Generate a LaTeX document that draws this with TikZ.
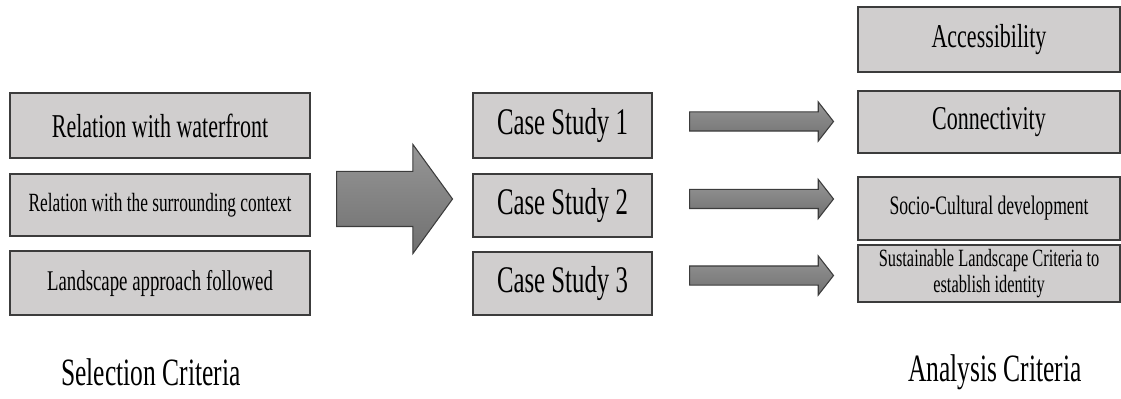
\documentclass[tikz,border=0pt]{standalone}
\usepackage{fontspec}
\setmainfont{Liberation Serif}[FakeStretch=0.66]
\usetikzlibrary{shapes.arrows}
\definecolor{boxGray}{RGB}{208,206,206}
\definecolor{edgeGray}{RGB}{60,60,60}
\definecolor{arrowLight}{RGB}{150,150,150}
\definecolor{arrowDark}{RGB}{112,112,112}
\tikzset{
  critBox/.style={draw=edgeGray, fill=boxGray, line width=1.1pt, rectangle, text centered, inner sep=0pt},
  blockArrow/.style={single arrow, anchor=tail, draw=edgeGray, line width=0.8pt, top color=arrowLight, bottom color=arrowDark, inner sep=0pt, text depth=0pt}
}
\begin{document}
\begin{tikzpicture}[x=0.75pt, y=-0.75pt]

		\useasboundingbox (0,0) rectangle (1121,399);

		%Selection criteria nodes
		\node (waterfront) at (160,125.5) [critBox, minimum width=225pt, minimum height=48.75pt,
		font=\fontsize{25}{30}\selectfont]{Relation with waterfront};
		\node (surroundingContext) at (160,205) [critBox, minimum width=225pt, minimum height=46.5pt,
		font=\fontsize{19.7}{24}\selectfont]{Relation with the surrounding context};
		\node (landscapeApproach) at (160,283) [critBox, minimum width=225pt, minimum height=48pt,
		font=\fontsize{21.4}{26}\selectfont]{Landscape approach followed};

		%Big arrow
		\node (bigArrow) at (336,199) [blockArrow, minimum height=87pt, minimum width=81pt,
		text height=40.5pt, single arrow head extend=20.25pt, single arrow tip angle=108]{};

		%Case studies
		\node (caseStudyOne) at (562.5,125.5) [critBox, minimum width=134.25pt, minimum height=48.75pt,
		font=\fontsize{28.2}{32}\selectfont]{Case Study 1};
		\node (caseStudyTwo) at (562.5,205.5) [critBox, minimum width=134.25pt, minimum height=47.25pt,
		font=\fontsize{28.2}{32}\selectfont]{Case Study 2};
		\node (caseStudyThree) at (562.5,283.5) [critBox, minimum width=134.25pt, minimum height=47.25pt,
		font=\fontsize{28.2}{32}\selectfont]{Case Study 3};

		%Small arrows
		\node (arrowOne) at (689,121.5) [blockArrow, minimum height=108pt, minimum width=28.5pt,
		text height=13.5pt, single arrow head extend=7.5pt, single arrow tip angle=104]{};
		\node (arrowTwo) at (689,199) [blockArrow, minimum height=108pt, minimum width=28.5pt,
		text height=13.5pt, single arrow head extend=7.5pt, single arrow tip angle=104]{};
		\node (arrowThree) at (689,275.5) [blockArrow, minimum height=108pt, minimum width=28.5pt,
		text height=13.5pt, single arrow head extend=7.5pt, single arrow tip angle=104]{};

		%Analysis criteria nodes
		\node (accessibility) at (989,39.5) [critBox, minimum width=196.5pt, minimum height=48.75pt,
		font=\fontsize{25}{30}\selectfont]{Accessibility};
		\node (connectivity) at (989,122) [critBox, minimum width=196.5pt, minimum height=46.5pt,
		font=\fontsize{25}{30}\selectfont]{Connectivity};
		\node (socioCultural) at (989,208.5) [critBox, minimum width=196.5pt, minimum height=47.25pt,
		font=\fontsize{20}{24}\selectfont]{Socio-Cultural development};
		\node (sustainableLandscape) at (989,273.5) [critBox, minimum width=196.5pt, minimum height=42.75pt,
		font=\fontsize{18.6}{20}\selectfont, align=center]{Sustainable Landscape Criteria to\\establish identity};

		%Captions
		\node (selectionCriteria) at (151,372) [font=\fontsize{29}{34}\selectfont]{Selection Criteria};
		\node (analysisCriteria) at (995,372) [font=\fontsize{29}{34}\selectfont]{Analysis Criteria};

\end{tikzpicture}
\end{document}
